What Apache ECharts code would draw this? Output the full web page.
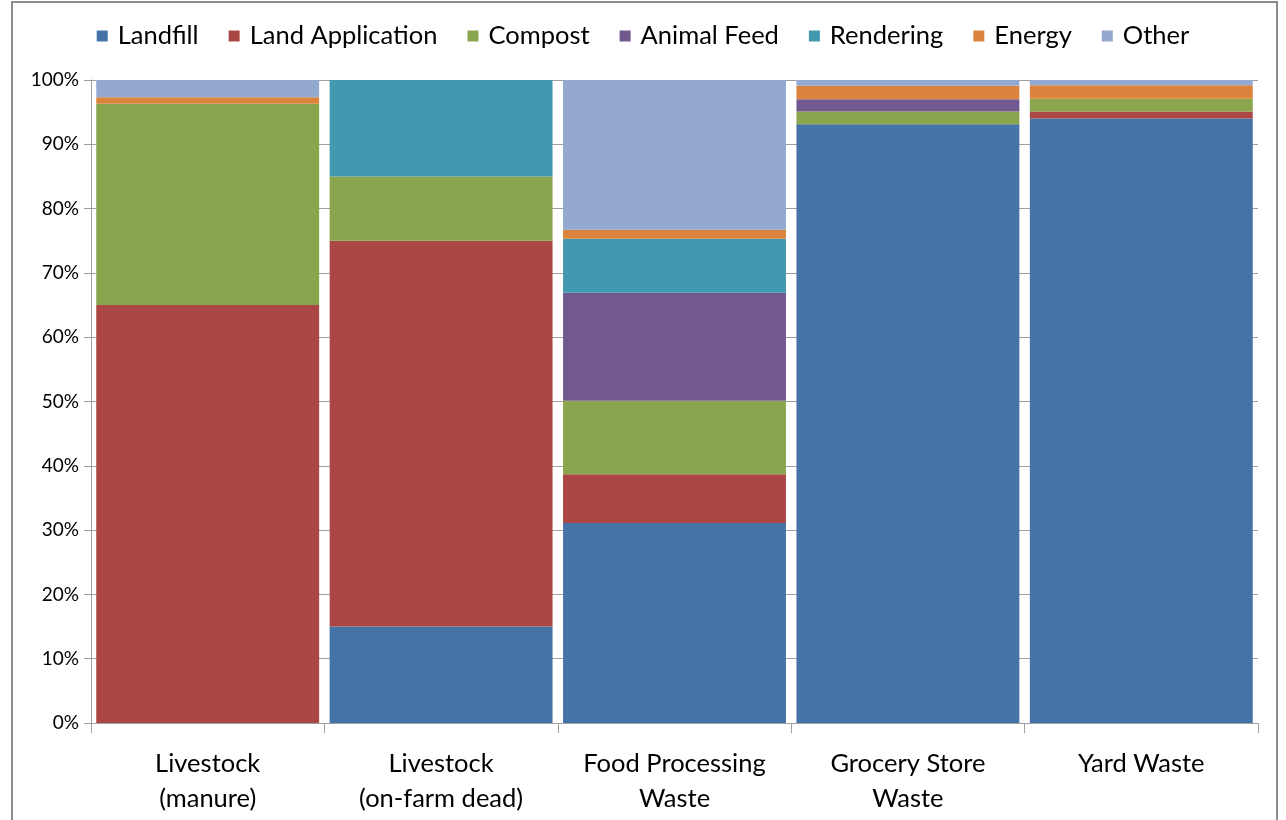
<!DOCTYPE html>
<html>
<head>
<meta charset="utf-8">
<script src="https://cdn.jsdelivr.net/npm/echarts@6/dist/echarts.min.js"></script>
<style>
  html, body { margin: 0; padding: 0; background: #fff; }
  #chart { width: 1286px; height: 820px; }
</style>
</head>
<body>
<div id="chart"></div>
<script>
// categories and shares (percent of each waste stream)
var categories = ['Livestock\n(manure)', 'Livestock\n(on-farm dead)', 'Food Processing\nWaste', 'Grocery Store\nWaste', 'Yard Waste'];
var landfill    = [0,    15,   31.1, 93.1, 94.0];
var landApp     = [65,   60,   7.6,  0,    1.1];
var compost     = [31.3, 10,   11.4, 2.0,  2.0];
var animalFeed  = [0,    0,    16.8, 1.9,  0];
var rendering   = [0,    15,   8.4,  0,    0];
var energy      = [1.0,  0,    1.4,  2.1,  2.1];
var other       = [2.7,  0,    23.3, 0.9,  0.8];

var names  = ['Landfill', 'Land Application', 'Compost', 'Animal Feed', 'Rendering', 'Energy', 'Other'];
var values = [landfill, landApp, compost, animalFeed, rendering, energy, other];
var colors = ['#4572A7', '#AA4643', '#89A54E', '#71588F', '#4198AF', '#DB843D', '#93A9CF'];

var font = 'Lato, "Open Sans", sans-serif';

var chart = echarts.init(document.getElementById('chart'));
var option = {
  animation: false,
  color: colors,
  textStyle: { fontFamily: font },
  graphic: [{
    type: 'rect',
    shape: { x: 12, y: 2, width: 1265, height: 830 },
    style: { fill: 'none', stroke: '#8c8c8c', lineWidth: 2 },
    silent: true
  }],
  legend: {
    top: 18,
    left: 'center',
    itemWidth: 11,
    itemHeight: 11,
    itemGap: 30,
    icon: 'rect',
    textStyle: { fontSize: 25.5, color: '#000', fontFamily: font, padding: [0, 0, 0, 5] },
    data: names
  },
  grid: { left: 91, right: 28, top: 80, bottom: 97, containLabel: false },
  xAxis: {
    type: 'category',
    data: categories,
    axisLine: { lineStyle: { color: '#a0a0a0' } },
    axisTick: { show: true, interval: 0, length: 10, lineStyle: { color: '#a0a0a0' } },
    axisLabel: { interval: 0, fontSize: 25.5, color: '#000', lineHeight: 35, margin: 23, fontFamily: font }
  },
  yAxis: {
    type: 'value',
    min: 0,
    max: 100,
    interval: 10,
    axisLine: { show: true, lineStyle: { color: '#a0a0a0' } },
    axisTick: { show: true, length: 7, lineStyle: { color: '#a0a0a0' } },
    axisLabel: { fontSize: 19, color: '#000', margin: 12, formatter: '{value}%', fontFamily: font },
    splitLine: { show: true, lineStyle: { color: '#a0a0a0' } }
  },
  series: names.map(function (n, i) {
    return {
      name: n,
      type: 'bar',
      stack: 'total',
      barCategoryGap: '4.5%',
      data: values[i]
    };
  })
};
chart.setOption(option);
</script>
</body>
</html>
